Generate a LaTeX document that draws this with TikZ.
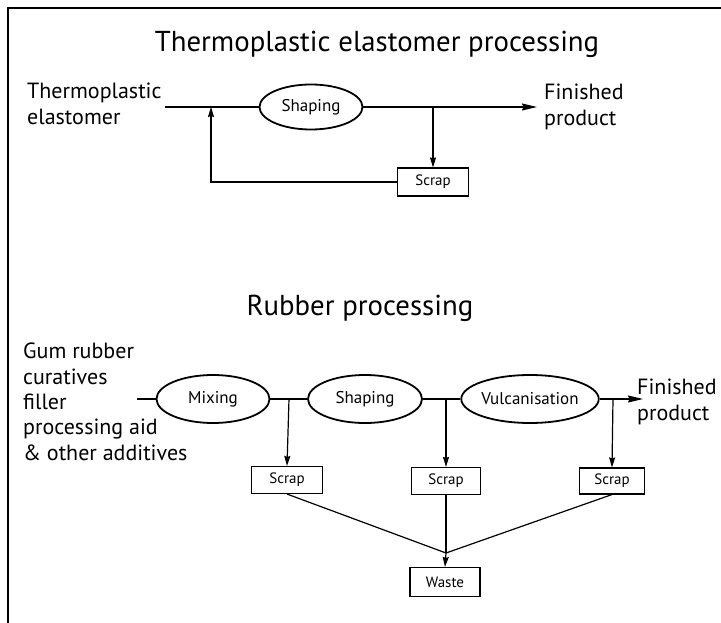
\documentclass[tikz,border=0pt]{standalone}
\usepackage{fontspec}
\setmainfont{PT Sans}
\usetikzlibrary{arrows.meta,shapes.geometric}

\tikzset{
  title/.style={font=\fontsize{28.8}{32}\selectfont, inner sep=0pt, anchor=base},
  side/.style={font=\fontsize{22}{25.3}\selectfont, inner sep=0pt, align=left, anchor=north west},
  stage/.style={ellipse, draw, line width=1.8pt, inner sep=0pt, font=\fontsize{17}{20}\selectfont},
  bin/.style={rectangle, draw, line width=1.1pt, inner sep=0pt, font=\fontsize{15}{18}\selectfont},
  flow/.style={line width=1.2pt},
  tip/.style={flow, -{Stealth[length=10pt, width=6pt, inset=1pt]}},
  bigtip/.style={flow, -{Stealth[length=15pt, width=7pt, inset=1.5pt]}},
}

\begin{document}
\begin{tikzpicture}[x=1pt, y=-1pt]
\useasboundingbox (0,0) rectangle (721,623);

% frame edges
\draw[line width=2pt] (8,623) -- (8,8) -- (721,8);

% ---- thermoplastic elastomer line ----
\node[title] (t1) at (377,52) {Thermoplastic elastomer processing};
\node[side] (tpe) at (27,83) {Thermoplastic\\elastomer};
\node[side] (fin1) at (544,84) {Finished\\product};

\node[stage, minimum width=103pt, minimum height=45pt] (shape0) at (311,107) {Shaping};
\node[bin, minimum width=71pt, minimum height=28pt] (scrap0) at (433,182) {Scrap};

\coordinate (tin) at (165,107);
\coordinate (tout) at (537,107);
\coordinate (b0) at (433,107);
\coordinate (fb) at (211,107);

\draw[flow] (tin) -- (shape0.west);
\draw[bigtip] (shape0.east) -- (tout);
\draw[tip] (b0) -- (scrap0.north);
\draw[tip] (scrap0.west) -| (fb);

% ---- rubber line ----
\node[title] (t2) at (360,315) {Rubber processing};
\node[side] (ingr) at (23,343) {Gum rubber\\curatives\\filler\\processing aid\\\& other additives};
\node[side] (fin2) at (637,379) {Finished\\product};

\node[stage, minimum width=113pt, minimum height=48pt] (mix) at (213,399) {Mixing};
\node[stage, minimum width=114pt, minimum height=48pt] (shape) at (365,399) {Shaping};
\node[stage, minimum width=114pt, minimum height=48pt] (vulc) at (530,399) {Vulcanisation};

\node[bin, minimum width=71pt, minimum height=27pt] (scrap1) at (287,480) {Scrap};
\node[bin, minimum width=69pt, minimum height=27pt] (scrap2) at (446,481) {Scrap};
\node[bin, minimum width=65pt, minimum height=26pt] (scrap3) at (612,481) {Scrap};
\node[bin, minimum width=70pt, minimum height=29pt] (waste) at (445,582) {Waste};

\coordinate (rin) at (137,399);
\coordinate (rout) at (643,399);
\coordinate (b1) at (289,399);
\coordinate (b2) at (446,399);
\coordinate (b3) at (613,399);
\coordinate (join) at (446,553);

\draw[flow] (rin) -- (mix.west);
\draw[flow] (mix.east) -- (shape.west);
\draw[flow] (shape.east) -- (vulc.west);
\draw[bigtip] (vulc.east) -- (rout);

\draw[tip] (b1) -- (scrap1.north);
\draw[tip] (b2) -- (scrap2.north);
\draw[tip] (b3) -- (scrap3.north);

\draw[flow] (scrap1.south) -- (join);
\draw[flow] (scrap2.south) -- (join);
\draw[flow] (scrap3.south) -- (join);
\draw[tip] (join) -- (waste.north);
\end{tikzpicture}
\end{document}
